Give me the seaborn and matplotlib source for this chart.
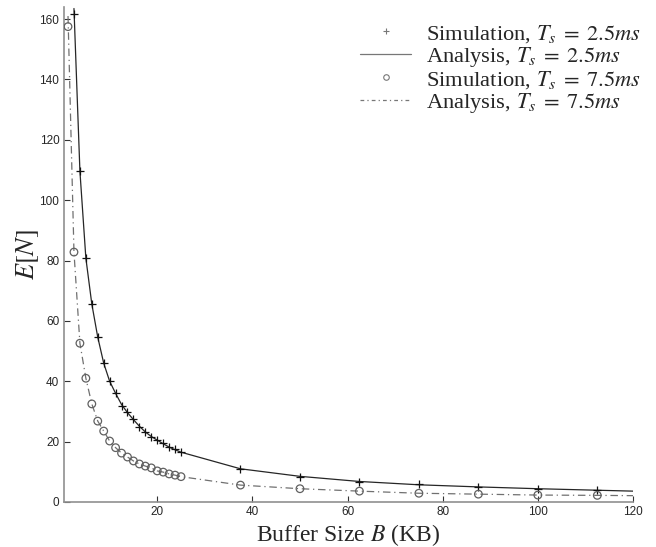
import matplotlib
matplotlib.use("Agg")
import matplotlib.pyplot as plt
from matplotlib.lines import Line2D
import seaborn as sns
import pandas as pd

# ---- data ----
x_sim_25 = [2.5, 3.75, 5, 6.25, 7.5, 8.75, 10, 11.25, 12.5, 13.75, 15, 16.25,
            17.5, 18.75, 20, 21.25, 22.5, 23.75, 25, 37.5, 50, 62.5, 75, 87.5,
            100, 112.5]
y_sim_25 = [161.6, 109.6, 80.8, 65.6, 54.6, 46.0, 40.0, 36.0, 31.8, 29.8, 27.5,
            24.8, 23.2, 21.5, 20.5, 19.5, 18.3, 17.5, 16.5, 11.0, 8.3, 6.6, 5.9,
            5.1, 4.3, 4.0]

x_ana_25 = [2.5, 3.75, 5, 6.25, 7.5, 8.75, 10, 11.25, 12.5, 13.75, 15, 16.25,
            17.5, 18.75, 20, 21.25, 22.5, 23.75, 25, 37.5, 50, 62.5, 75, 87.5,
            100, 112.5, 120]
y_ana_25 = [163.5, 109.6, 80.8, 65.6, 54.6, 46.0, 40.0, 36.0, 32.3, 29.6, 27.3,
            25.1, 23.2, 21.7, 20.5, 19.3, 18.2, 17.3, 16.5, 11.0, 8.5, 6.8, 5.7,
            5.0, 4.4, 3.9, 3.6]

x_sim_75 = [1.25, 2.5, 3.75, 5, 6.25, 7.5, 8.75, 10, 11.25, 12.5, 13.75, 15,
            16.25, 17.5, 18.75, 20, 21.25, 22.5, 23.75, 25, 37.5, 50, 62.5, 75,
            87.5, 100, 112.5]
y_sim_75 = [157.5, 82.8, 52.6, 41.0, 32.5, 26.8, 23.5, 20.2, 18.0, 16.2, 14.9,
            13.6, 12.6, 11.9, 11.3, 10.3, 9.9, 9.3, 8.9, 8.4, 5.6, 4.4, 3.6, 2.9,
            2.6, 2.3, 2.2]

x_ana_75 = [1.25, 2.5, 3.75, 5, 6.25, 7.5, 8.75, 10, 11.25, 12.5, 13.75, 15,
            16.25, 17.5, 18.75, 20, 21.25, 22.5, 23.75, 25, 37.5, 50, 62.5, 75,
            87.5, 100, 112.5, 120]
y_ana_75 = [161.0, 82.8, 52.6, 41.0, 32.5, 26.8, 23.5, 20.2, 18.0, 16.2, 14.9,
            13.6, 12.6, 11.9, 11.3, 10.3, 9.9, 9.3, 8.9, 8.4, 5.6, 4.4, 3.6, 2.9,
            2.6, 2.3, 2.2, 2.1]

labels = [r"Simulation, $T_s\;=\;2.5ms$", r"Analysis, $T_s\;=\;2.5ms$",
          r"Simulation, $T_s\;=\;7.5ms$", r"Analysis, $T_s\;=\;7.5ms$"]
x_ticks = [20, 40, 60, 80, 100, 120]
y_ticks = [0, 20, 40, 60, 80, 100, 120, 140, 160]

# ---- styling ----
sns.set_style("ticks")
plt.rcParams["font.family"] = ["Liberation Serif", "DejaVu Serif"]
plt.rcParams["mathtext.fontset"] = "stix"
plt.rcParams["xtick.direction"] = "in"
plt.rcParams["ytick.direction"] = "in"

fig = plt.figure(figsize=(6.56, 5.47), dpi=100)
ax = fig.add_axes([63.5 / 656, 45 / 547, (633 - 63.5) / 656, (502 - 7) / 547])

df_a25 = pd.DataFrame({"B": x_ana_25, "E": y_ana_25})
df_a75 = pd.DataFrame({"B": x_ana_75, "E": y_ana_75})
df_s25 = pd.DataFrame({"B": x_sim_25, "E": y_sim_25})
df_s75 = pd.DataFrame({"B": x_sim_75, "E": y_sim_75})

line_c = "#262626"
dd_c = "#707070"
circ_c = "#606060"
dashes = (6, 3, 1, 3)

sns.lineplot(data=df_a25, x="B", y="E", ax=ax, color=line_c, linewidth=0.9,
             sort=False, estimator=None)
sns.lineplot(data=df_a75, x="B", y="E", ax=ax, color=dd_c, linewidth=0.9,
             sort=False, estimator=None)
ax.lines[-1].set_dashes(dashes)
sns.scatterplot(data=df_s25, x="B", y="E", ax=ax, marker="+", s=38,
                color="#111111", linewidth=0.9, zorder=3)
sns.scatterplot(data=df_s75, x="B", y="E", ax=ax, marker="o", s=30,
                facecolors="none", edgecolor=circ_c, linewidth=0.9, zorder=3)

ax.set_xlim(0.3, 120)
ax.set_ylim(0, 164)
ax.set_xticks(x_ticks)
ax.set_yticks(y_ticks)
for lab in ax.get_xticklabels() + ax.get_yticklabels():
    lab.set_family(["Liberation Sans", "DejaVu Sans"])
    lab.set_fontsize(8.5)
ax.tick_params(length=4, width=0.8, color="#333333", pad=3)

for side in ["top", "right"]:
    ax.spines[side].set_visible(False)
for side in ["left", "bottom"]:
    ax.spines[side].set_color("#909090")
    ax.spines[side].set_linewidth(1.2)

ax.set_xlabel(r"Buffer Size $B$ (KB)", fontsize=17, labelpad=2.5)
ax.set_ylabel(r"$E[N]$", fontsize=19, labelpad=-1)

handles = [
    Line2D([], [], linestyle="none", marker="+", markersize=5, color="#777777",
           markeredgewidth=0.8),
    Line2D([], [], color="#777777", linewidth=0.9),
    Line2D([], [], linestyle="none", marker="o", markersize=4,
           markerfacecolor="none", markeredgecolor="#777777",
           markeredgewidth=0.8),
    Line2D([], [], color="#777777", linewidth=0.9, dashes=(3, 2.5, 1, 2.5)),
]
leg = ax.legend(handles, labels, loc="upper right",
                bbox_to_anchor=(657 / 656, (547 - 7) / 547),
                bbox_transform=fig.transFigure, frameon=False,
                prop={"family": ["Liberation Serif"], "size": 16.2},
                labelspacing=0.0, handlelength=2.3, handletextpad=0.65,
                borderpad=0.2)

fig.savefig("out.png", dpi=100)
